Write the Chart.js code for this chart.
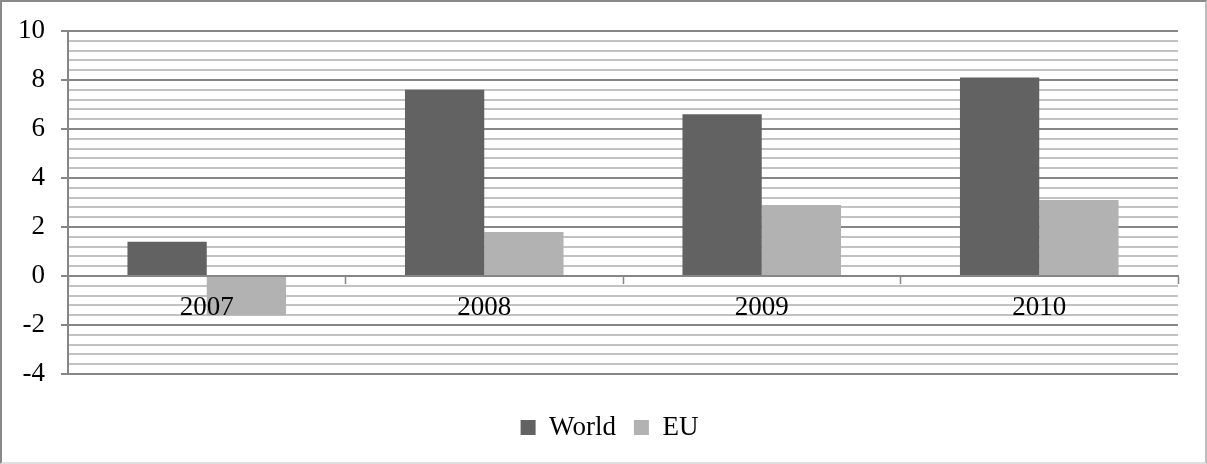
<!DOCTYPE html>
<html>
<head>
<meta charset="utf-8">
<script src="https://cdn.jsdelivr.net/npm/chart.js@4.4.1/dist/chart.umd.min.js"></script>
<style>
  html, body { margin: 0; padding: 0; background: #fff; }
  .frame {
    position: relative;
    width: 1207px; height: 464px;
    box-sizing: border-box;
    border: 2px solid #8a8a8a;
    border-right-color: #bdbdbd;
    border-bottom-color: #e0e0e0;
  }
  .frame canvas { display: block; }
</style>
</head>
<body>
<div class="frame"><canvas id="growthChart" width="1203" height="460"></canvas></div>
<script>
/* ─── data ─── */
const years = ['2007', '2008', '2009', '2010'];
const worldValues = [1.4, 7.6, 6.6, 8.1];
const euValues = [-1.6, 1.8, 2.9, 3.1];

const yMin = -4;
const yMax = 10;
const yLabelStep = 2;     // labelled gridlines
const yMinorStep = 0.4;   // thin gridlines in between

const serif = { family: "'Liberation Serif', 'Times New Roman', serif", size: 27 };
const majorGrey = '#868686';
const minorGrey = '#c2c2c2';

function isMajor(v) {
    return Math.abs(Math.round(v * 10)) % (yLabelStep * 10) === 0;
}

function initChart() {
    const ctx = document.getElementById('growthChart').getContext('2d');
    new Chart(ctx, {
        type: 'bar',
        data: {
            labels: years,
            datasets: [
                { label: 'World', data: worldValues, backgroundColor: '#626262' },
                { label: 'EU',    data: euValues,    backgroundColor: '#b2b2b2' }
            ]
        },
        options: {
            responsive: false,
            animation: false,
            layout: { padding: { left: 12, right: 0, top: 29, bottom: 11 } },
            datasets: {
                bar: { categoryPercentage: 2 / 3.5, barPercentage: 1, borderWidth: 0 }
            },
            plugins: {
                tooltip: { enabled: false },
                legend: {
                    position: 'bottom',
                    labels: {
                        boxWidth: 15,
                        boxHeight: 15,
                        padding: 18,
                        color: '#000',
                        font: serif
                    }
                }
            },
            scales: {
                y: {
                    min: yMin,
                    max: yMax,
                    afterFit: s => { s.width = 54; },
                    border: { color: majorGrey, width: 2 },
                    grid: {
                        lineWidth: 2,
                        tickLength: 7,
                        color: c => isMajor(c.tick.value) ? majorGrey : minorGrey,
                        tickColor: c => isMajor(c.tick.value) ? majorGrey : 'rgba(0,0,0,0)'
                    },
                    ticks: {
                        stepSize: yMinorStep,
                        autoSkip: false,
                        padding: 16,
                        color: '#000',
                        // tight line height so the labels don't push the plot down
                        font: { ...serif, lineHeight: 0.9 },
                        callback: v => isMajor(v) ? String(Math.round(v)) : ''
                    }
                },
                x: {
                    position: { y: 0 },
                    border: { color: majorGrey, width: 2, z: 1 },
                    grid: {
                        drawOnChartArea: false,
                        tickLength: 7,
                        tickWidth: 1.5,
                        tickColor: majorGrey
                    },
                    ticks: { z: 1, padding: 9, maxRotation: 0, color: '#000', font: serif }
                },
                // empty spacers: gap above the legend, margin right of the plot
                x2: {
                    type: 'category',
                    position: 'bottom',
                    afterFit: s => { s.height = 22; },
                    border: { display: false },
                    grid: { display: false, drawTicks: false },
                    ticks: { display: false }
                },
                y2: {
                    type: 'linear',
                    position: 'right',
                    afterFit: s => { s.width = 27; },
                    border: { display: false },
                    grid: { display: false, drawTicks: false },
                    ticks: { display: false }
                }
            }
        }
    });
}

document.addEventListener('DOMContentLoaded', initChart);
</script>
</body>
</html>
